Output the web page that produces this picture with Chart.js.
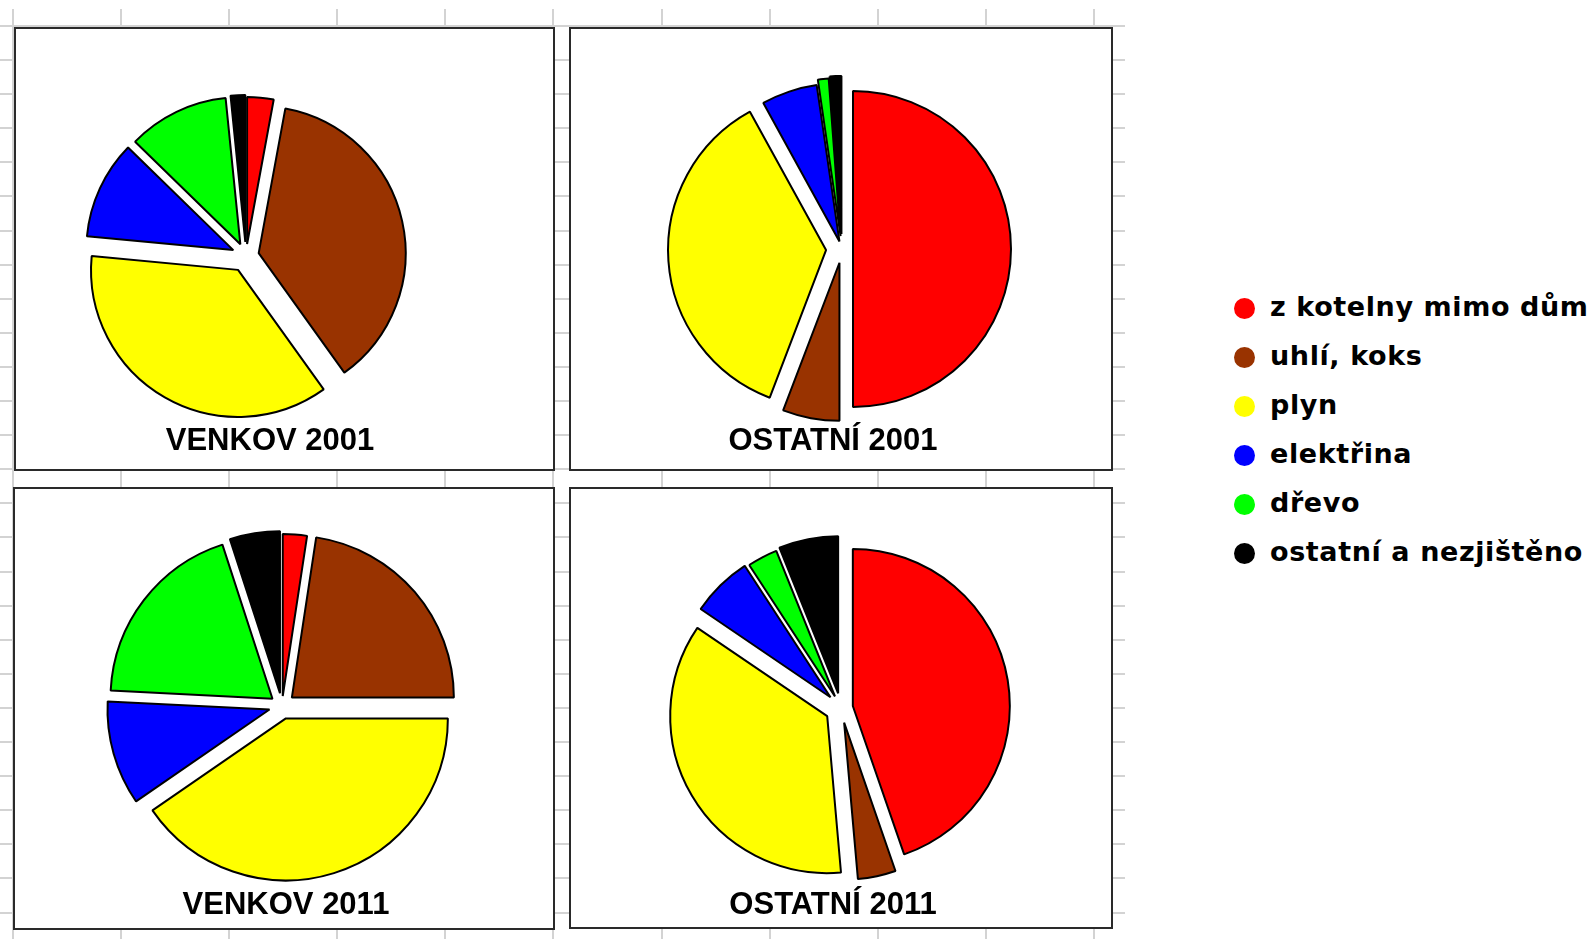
<!DOCTYPE html>
<html>
<head>
<meta charset="utf-8">
<script src="https://cdn.jsdelivr.net/npm/chart.js@4.4.1/dist/chart.umd.min.js"></script>
<style>
  html, body { margin: 0; padding: 0; background: #fff; }
  body { width: 1594px; height: 939px; position: relative; overflow: hidden; }
  .grid {
    position: absolute; left: 0; top: 9px; width: 1125px; height: 930px;
    background-image:
      repeating-linear-gradient(180deg, transparent 0, transparent 16px, #d3d3d3 16px, #d3d3d3 18px, transparent 18px, transparent 34.1px),
      repeating-linear-gradient(90deg, transparent 0, transparent 12px, #d3d3d3 12px, #d3d3d3 14px, transparent 14px, transparent 108.1px);
  }
  .panel { position: absolute; background: #fff; border: 2px solid #2a2a2a; box-sizing: border-box; }
  .pie { position: absolute; width: 380px; height: 380px; }
  .title {
    position: absolute; transform: translate(-50%, -50%); white-space: nowrap;
    font-family: "Liberation Sans", Arial, sans-serif; font-weight: bold; font-size: 31px; line-height: 1; color: #000;
  }
  #legend { position: absolute; left: 1234px; top: 284px; }
  .item { height: 49px; display: flex; align-items: center; }
  .dot { width: 21px; height: 21px; border-radius: 50%; margin-right: 15px; }
  .item span {
    font-family: "DejaVu Sans", Verdana, sans-serif; font-weight: bold; font-size: 27px;
    letter-spacing: 0.6px; color: #000; line-height: 1; position: relative; top: -2px;
  }
</style>
</head>
<body>
<div class="grid"></div>

<div class="panel" style="left:14px; top:27px; width:541px; height:444px;"></div>
<div class="panel" style="left:569px; top:27px; width:544px; height:444px;"></div>
<div class="panel" style="left:13px; top:487px; width:542px; height:443px;"></div>
<div class="panel" style="left:569px; top:487px; width:544px; height:442px;"></div>

<canvas id="pie1" class="pie" width="380" height="380" style="left:56px; top:66px;"></canvas>
<canvas id="pie2" class="pie" width="380" height="380" style="left:652px; top:59px;"></canvas>
<canvas id="pie3" class="pie" width="380" height="380" style="left:92px; top:516px;"></canvas>
<canvas id="pie4" class="pie" width="380" height="380" style="left:651px; top:518px;"></canvas>

<div class="title" style="left:270px; top:439px;">VENKOV 2001</div>
<div class="title" style="left:833px; top:439px;">OSTATNÍ 2001</div>
<div class="title" style="left:286px; top:903px;">VENKOV 2011</div>
<div class="title" style="left:833px; top:903px;">OSTATNÍ 2011</div>

<div id="legend"></div>

<script>
// zdroj vytápění, podíl v %
const labels = ["z kotelny mimo dům", "uhlí, koks", "plyn", "elektřina", "dřevo", "ostatní a nezjištěno"];
const colors = ["#ff0000", "#993300", "#ffff00", "#0000ff", "#00ff00", "#000000"];

const venkov2001 = [2.9, 37.2, 36.4, 10.8, 11.1, 1.6];
const ostatni2001 = [50.0, 5.8, 36.2, 5.7, 1.1, 1.2];
const venkov2011 = [2.4, 22.6, 40.4, 10.4, 19.2, 5.0];
const ostatni2011 = [44.7, 3.9, 35.9, 6.3, 3.1, 6.1];

// vysunuti vysecu (px)
const explode1 = [12, 13, 16, 14, 13, 14];
const explode2 = [11, 14, 16, 8, 13, 15];
const explode3 = [10, 13, 13, 13, 12, 13];
const explode4 = [12, 15, 16, 15, 13, 15];

// posune kazdy vysec ven podel jeho stredniho uhlu, bez zmeny polomeru
const explodePlugin = {
  id: "explode",
  afterDatasetUpdate(chart, args) {
    const ds = chart.data.datasets[args.index];
    const dist = ds.explode || [];
    args.meta.data.forEach((arc, i) => {
      const mid = (arc.startAngle + arc.endAngle) / 2;
      const d = dist[i] || 0;
      arc.x += Math.cos(mid) * d;
      arc.y += Math.sin(mid) * d;
    });
  }
};

function makePie(id, values, explode, radius) {
  const ctx = document.getElementById(id).getContext("2d");
  return new Chart(ctx, {
    type: "pie",
    data: {
      labels: labels,
      datasets: [{
        data: values,
        explode: explode,
        backgroundColor: colors,
        borderColor: "#000",
        borderWidth: 2
      }]
    },
    options: {
      responsive: false,
      animation: false,
      events: [],
      radius: radius,
      plugins: {
        legend: { display: false },
        tooltip: { enabled: false }
      }
    },
    plugins: [explodePlugin]
  });
}

makePie("pie1", venkov2001, explode1, 147);
makePie("pie2", ostatni2001, explode2, 158);
makePie("pie3", venkov2011, explode3, 162);
makePie("pie4", ostatni2011, explode4, 157);

const legend = document.getElementById("legend");
labels.forEach((name, i) => {
  const row = document.createElement("div");
  row.className = "item";
  row.innerHTML = '<div class="dot" style="background:' + colors[i] + '"></div><span>' + name + '</span>';
  legend.appendChild(row);
});
</script>
</body>
</html>
